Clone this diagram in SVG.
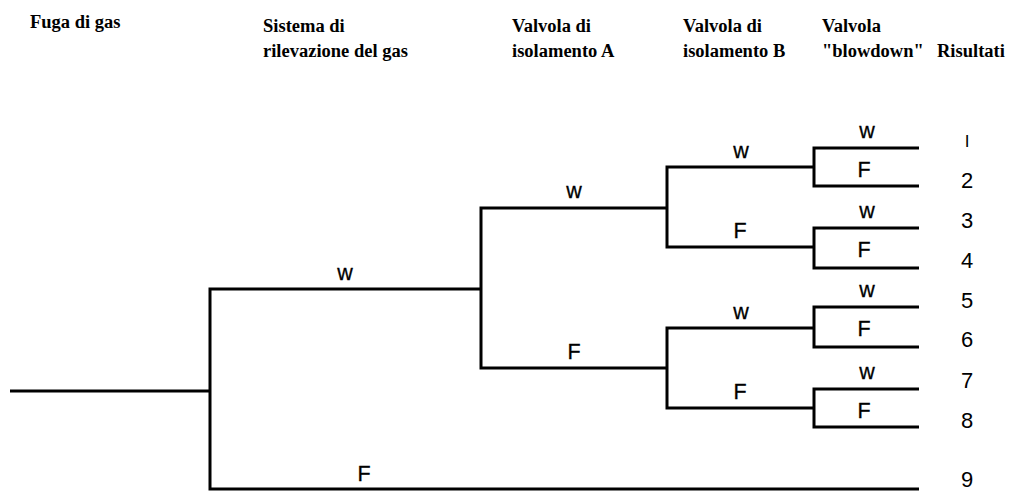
<svg xmlns="http://www.w3.org/2000/svg" width="1017" height="491" viewBox="0 0 1017 491">
<style>
.h{font-family:'Liberation Serif','Times New Roman',serif;font-weight:bold;font-size:18.5px;fill:#000}
.l{font-family:'Liberation Sans',Arial,sans-serif;font-size:21.5px;fill:#000;stroke:#000;stroke-width:0.3;text-anchor:middle}
.n{font-family:'Liberation Sans',Arial,sans-serif;font-size:22px;fill:#000;text-anchor:middle}
.c{fill:none;stroke:#000;stroke-width:3;stroke-linejoin:miter;stroke-linecap:butt}
</style>
<rect width="1017" height="491" fill="#fff"/>
<g id="headers" font-family="Liberation Serif, serif" font-weight="bold">
<text class="h" x="30" y="28">Fuga di gas</text>
<text class="h" x="263" y="32">Sistema di</text>
<text class="h" x="263" y="57">rilevazione del gas</text>
<text class="h" x="512" y="32">Valvola di</text>
<text class="h" x="512" y="57">isolamento A</text>
<text class="h" x="683" y="32">Valvola di</text>
<text class="h" x="683" y="57">isolamento B</text>
<text class="h" x="822" y="32">Valvola</text>
<text class="h" x="822" y="57">"blowdown"</text>
<text class="h" x="937" y="57">Risultati</text>
</g>
<g id="connectors">
<path class="c" d="M10 391H210"/>
<path class="c" d="M481 289H210V489H919"/>
<path class="c" d="M667 208H481V368H667"/>
<path class="c" d="M814 167H667V247H814"/>
<path class="c" d="M814 328H667V408H814"/>
<path class="c" d="M919 148H814V186H919"/>
<path class="c" d="M919 228H814V268H919"/>
<path class="c" d="M919 307H814V347H919"/>
<path class="c" d="M919 389H814V427H919"/>
</g>
<g id="labels-gas">
<text class="l" x="345" y="280">w</text>
<text class="l" x="364" y="481">F</text>
</g>
<g id="labels-A">
<text class="l" x="574" y="198">w</text>
<text class="l" x="574" y="359">F</text>
</g>
<g id="labels-B">
<text class="l" x="741" y="158">w</text>
<text class="l" x="740" y="238">F</text>
<text class="l" x="741" y="319">w</text>
<text class="l" x="740" y="399">F</text>
</g>
<g id="labels-blowdown">
<text class="l" x="867" y="138">w</text>
<text class="l" x="864" y="177">F</text>
<text class="l" x="867" y="218">w</text>
<text class="l" x="864" y="257">F</text>
<text class="l" x="867" y="297">w</text>
<text class="l" x="864" y="336">F</text>
<text class="l" x="867" y="379">w</text>
<text class="l" x="864" y="418">F</text>
</g>
<g id="results">
<text class="n" x="967" y="147" style="font-size:17px">I</text>
<text class="n" x="967" y="188">2</text>
<text class="n" x="967" y="228">3</text>
<text class="n" x="967" y="268">4</text>
<text class="n" x="967" y="308">5</text>
<text class="n" x="967" y="347">6</text>
<text class="n" x="967" y="388">7</text>
<text class="n" x="967" y="428">8</text>
<text class="n" x="967" y="487">9</text>
</g>
</svg>
